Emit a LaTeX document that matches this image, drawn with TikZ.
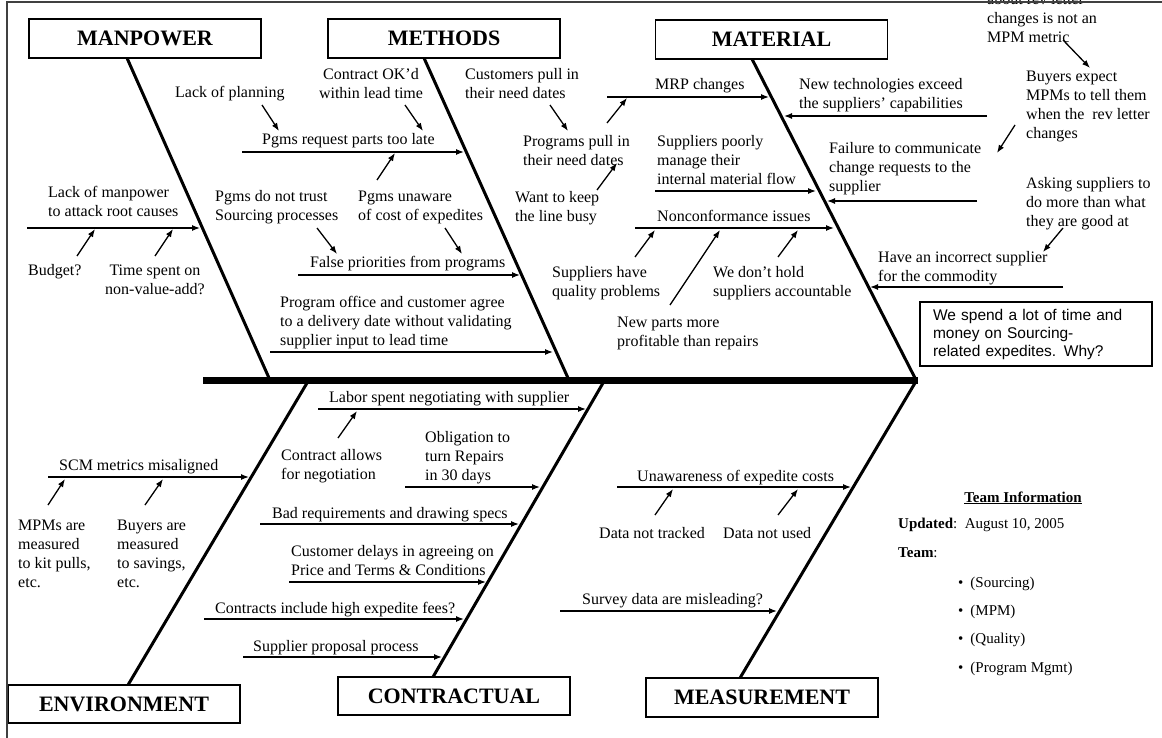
\documentclass[tikz,border=0pt]{standalone}
\usepackage{fontspec}
\setmainfont{Liberation Serif}
\newfontfamily\calloutfont{Liberation Sans}
\usetikzlibrary{arrows.meta}
\begin{document}
\begin{tikzpicture}[x=1pt,y=-1pt,
  txt/.style={font=\fontsize{16}{19}\selectfont, inner sep=0pt, anchor=base west, align=left},
  ctxt/.style={txt, anchor=base, align=center},
  team/.style={font=\fontsize{15}{18}\selectfont, inner sep=0pt, anchor=base west},
  titlebox/.style={draw, line width=1.5pt, font=\fontsize{22}{26}\bfseries\selectfont,
    minimum width=232pt, minimum height=39pt, inner sep=0pt},
  bone/.style={line width=3pt},
  spine/.style={line width=7pt},
  cause/.style={line width=1.3pt, -{Latex[length=8pt,width=6pt]}},
  frame/.style={line width=2.5pt, black!75}
  ]
\useasboundingbox (0,0) rectangle (1162,738);
\clip (0,0) rectangle (1162,738);

% ---------- category boxes ----------
\node[titlebox] (manpower) at (145,38.5) {MANPOWER};
\node[titlebox] (methods) at (444,38.5) {METHODS};
\node[titlebox] (material) at (771.5,39.5) {MATERIAL};
\node[titlebox, minimum height=38pt] (environment) at (124,704) {ENVIRONMENT};
\node[titlebox, minimum height=38pt] (contractual) at (454,696) {CONTRACTUAL};
\node[titlebox] (measurement) at (762,697.5) {MEASUREMENT};

% ---------- spine and bones ----------
\coordinate (spL) at (203,380);
\coordinate (spR) at (918,380);
\draw[spine] (spL) -- (spR);

\coordinate (mpT) at (127,58);   \coordinate (mpS) at (269,378);
\coordinate (meT) at (424,58);   \coordinate (meS) at (568,378);
\coordinate (maT) at (752,59);   \coordinate (maS) at (915,378);
\coordinate (enS) at (307,383);  \coordinate (enB) at (128,685);
\coordinate (coS) at (603,383);  \coordinate (coB) at (433,677);
\coordinate (msS) at (915,383);  \coordinate (msB) at (740,678);
\draw[bone] (mpT) -- (mpS);
\draw[bone] (meT) -- (meS);
\draw[bone] (maT) -- (maS);
\draw[bone] (enS) -- (enB);
\draw[bone] (coS) -- (coB);
\draw[bone] (msS) -- (msB);

% ---------- MANPOWER ----------
\node[txt] (lackman) at (48,217) {Lack of manpower\\to attack root causes};
\node[txt] (budget) at (28,275) {Budget?};
\node[ctxt] (timespent) at (155,294) {Time spent on\\non-value-add?};
\coordinate (lm1) at (27,228);  \coordinate (lm2) at (200,228);
\draw[cause] (lm1) -- (lm2);
\coordinate (bu1) at (77,256);  \coordinate (bu2) at (95,229);
\draw[cause] (bu1) -- (bu2);
\coordinate (ts1) at (155,256); \coordinate (ts2) at (173,229);
\draw[cause] (ts1) -- (ts2);

% ---------- METHODS (left part) ----------
\node[txt] (lackplan) at (175,98) {Lack of planning};
\node[ctxt] (contractok) at (371,99) {Contract OK'd\\within lead time};
\node[txt] (pgmsreq) at (262,145) {Pgms request parts too late};
\node[txt] (pgmstrust) at (215,221) {Pgms do not trust\\Sourcing processes};
\node[txt] (pgmsunaware) at (358,221) {Pgms unaware\\of cost of expedites};
\node[txt] (falsepri) at (310,268) {False priorities from programs};
\node[txt] (progoffice) at (280,345) {Program office and customer agree\\to a delivery date without validating\\supplier input to lead time};

\coordinate (pr1) at (242,152); \coordinate (pr2) at (464,152);
\draw[cause] (pr1) -- (pr2);
\coordinate (lp1) at (262,105); \coordinate (lp2) at (279,131);
\draw[cause] (lp1) -- (lp2);
\coordinate (ok1) at (405,105); \coordinate (ok2) at (423,131);
\draw[cause] (ok1) -- (ok2);
\coordinate (pu1) at (377,180); \coordinate (pu2) at (395,153);
\draw[cause] (pu1) -- (pu2);
\coordinate (fp1) at (298,275); \coordinate (fp2) at (520,275);
\draw[cause] (fp1) -- (fp2);
\coordinate (pt1) at (317,228); \coordinate (pt2) at (337,254);
\draw[cause] (pt1) -- (pt2);
\coordinate (pd1) at (445,228); \coordinate (pd2) at (462,254);
\draw[cause] (pd1) -- (pd2);
\coordinate (po1) at (270,352); \coordinate (po2) at (553,352);
\draw[cause] (po1) -- (po2);

% ---------- METHODS (right part) ----------
\node[txt] (custpull) at (465,99) {Customers pull in\\their need dates};
\node[txt] (progpull) at (523,166) {Programs pull in\\their need dates};
\node[txt] (mrp) at (655,90) {MRP changes};
\node[txt] (wantkeep) at (515,222) {Want to keep\\the line busy};
\node[txt] (supppoor) at (657,185) {Suppliers poorly\\manage their\\internal material flow};
\node[txt] (noncon) at (657,222) {Nonconformance issues};
\node[txt] (suppqual) at (552,296) {Suppliers have\\quality problems};
\node[txt] (newparts) at (617,346) {New parts more\\profitable than repairs};
\node[txt] (wedont) at (713,296) {We don't hold\\suppliers accountable};

\coordinate (cp1) at (550,105); \coordinate (cp2) at (568,131);
\draw[cause] (cp1) -- (cp2);
\coordinate (mr1) at (607,97);  \coordinate (mr2) at (769,97);
\draw[cause] (mr1) -- (mr2);
\coordinate (pp1) at (607,123); \coordinate (pp2) at (627,98);
\draw[cause] (pp1) -- (pp2);
\coordinate (wk1) at (597,190); \coordinate (wk2) at (617,163);
\draw[cause] (wk1) -- (wk2);
\coordinate (sp1) at (655,191); \coordinate (sp2) at (816,191);
\draw[cause] (sp1) -- (sp2);
\coordinate (nc1) at (635,228); \coordinate (nc2) at (834,228);
\draw[cause] (nc1) -- (nc2);
\coordinate (sq1) at (635,257); \coordinate (sq2) at (655,230);
\draw[cause] (sq1) -- (sq2);
\coordinate (np1) at (670,305); \coordinate (np2) at (720,230);
\draw[cause] (np1) -- (np2);
\coordinate (wd1) at (778,257); \coordinate (wd2) at (798,230);
\draw[cause] (wd1) -- (wd2);

% ---------- MATERIAL (right part) ----------
\node[txt] (newtech) at (799,109) {New technologies exceed\\the suppliers' capabilities};
\node[txt] (failure) at (829,192) {Failure to communicate\\change requests to the\\supplier};
\node[txt] (buyers) at (1026,139) {Buyers expect\\MPMs to tell them\\when the\ \ rev letter\\changes};
\node[txt] (toptext) at (987,43) {about rev letter\\changes is not an\\MPM metric};
\node[txt] (asking) at (1026,226) {Asking suppliers to\\do more than what\\they are good at};
\node[txt] (incorrect) at (878,281) {Have an incorrect supplier\\for the commodity};

\coordinate (nt1) at (987,116); \coordinate (nt2) at (784,116);
\draw[cause] (nt1) -- (nt2);
\coordinate (fl1) at (977,201); \coordinate (fl2) at (827,201);
\draw[cause] (fl1) -- (fl2);
\coordinate (by1) at (1015,125); \coordinate (by2) at (997,153);
\draw[cause] (by1) -- (by2);
\coordinate (tt1) at (1063,40); \coordinate (tt2) at (1090,68);
\draw[cause] (tt1) -- (tt2);
\coordinate (as1) at (1063,228); \coordinate (as2) at (1043,252);
\draw[cause] (as1) -- (as2);
\coordinate (ic1) at (1063,287); \coordinate (ic2) at (870,287);
\draw[cause] (ic1) -- (ic2);

% ---------- problem statement ----------
\node[draw, line width=1.3pt, minimum width=232pt, minimum height=64pt, inner sep=0pt,
      text width=206pt, align=left, font=\calloutfont\fontsize{15.5}{18}\selectfont]
      (problem) at (1036,334) {We spend a lot of time and\\money on Sourcing-\\related expedites. Why?};

% ---------- ENVIRONMENT ----------
\node[txt] (scm) at (59,470) {SCM metrics misaligned};
\node[txt] (mpms) at (18,587) {MPMs are\\measured\\to kit pulls,\\etc.};
\node[txt] (buyersmeas) at (117,587) {Buyers are\\measured\\to savings,\\etc.};
\coordinate (sc1) at (48,477);  \coordinate (sc2) at (249,477);
\draw[cause] (sc1) -- (sc2);
\coordinate (mm1) at (48,505);  \coordinate (mm2) at (65,479);
\draw[cause] (mm1) -- (mm2);
\coordinate (bm1) at (145,505); \coordinate (bm2) at (163,479);
\draw[cause] (bm1) -- (bm2);

% ---------- CONTRACTUAL ----------
\node[txt] (labor) at (329,402) {Labor spent negotiating with supplier};
\node[txt] (contallow) at (281,479) {Contract allows\\for negotiation};
\node[txt] (obligation) at (425,480) {Obligation to\\turn Repairs\\in 30 days};
\node[txt] (badreq) at (272,518) {Bad requirements and drawing specs};
\node[txt] (custdelay) at (291,575) {Customer delays in agreeing on\\Price and Terms \& Conditions};
\node[txt] (contrinc) at (215,613) {Contracts include high expedite fees?};
\node[txt] (supprop) at (253,651) {Supplier proposal process};

\coordinate (lb1) at (318,409); \coordinate (lb2) at (586,409);
\draw[cause] (lb1) -- (lb2);
\coordinate (ca1) at (338,438); \coordinate (ca2) at (357,411);
\draw[cause] (ca1) -- (ca2);
\coordinate (ob1) at (405,487); \coordinate (ob2) at (540,487);
\draw[cause] (ob1) -- (ob2);
\coordinate (br1) at (260,524); \coordinate (br2) at (519,524);
\draw[cause] (br1) -- (br2);
\coordinate (cd1) at (289,582); \coordinate (cd2) at (486,582);
\draw[cause] (cd1) -- (cd2);
\coordinate (ci1) at (204,619); \coordinate (ci2) at (464,619);
\draw[cause] (ci1) -- (ci2);
\coordinate (ps1) at (243,657); \coordinate (ps2) at (442,657);
\draw[cause] (ps1) -- (ps2);

% ---------- MEASUREMENT ----------
\node[txt] (unaware) at (637,481) {Unawareness of expedite costs};
\node[txt] (datatr) at (599,538) {Data not tracked};
\node[txt] (dataused) at (723,538) {Data not used};
\node[txt] (survey) at (582,604) {Survey data are misleading?};
\coordinate (ua1) at (617,487); \coordinate (ua2) at (851,487);
\draw[cause] (ua1) -- (ua2);
\coordinate (dt1) at (655,515); \coordinate (dt2) at (673,489);
\draw[cause] (dt1) -- (dt2);
\coordinate (du1) at (778,515); \coordinate (du2) at (798,489);
\draw[cause] (du1) -- (du2);
\coordinate (sv1) at (560,611); \coordinate (sv2) at (777,611);
\draw[cause] (sv1) -- (sv2);

% ---------- team information ----------
\node[team, anchor=base] (teaminfo) at (1023,502) {\textbf{\underline{Team Information}}};
\node[team] (updated) at (898,528) {\textbf{Updated}:\ \ August 10, 2005};
\node[team] (teamlbl) at (898,557) {\textbf{Team}:};
\node[team] (m1) at (958,587) {•\hspace{7pt}(Sourcing)};
\node[team] (m2) at (958,615) {•\hspace{7pt}(MPM)};
\node[team] (m3) at (958,643) {•\hspace{7pt}(Quality)};
\node[team] (m4) at (958,672) {•\hspace{7pt}(Program Mgmt)};

% ---------- frame (drawn last, over the cut-off top text) ----------
\coordinate (fA) at (7,738);
\coordinate (fB) at (7,2);
\coordinate (fC) at (1162,2);
\draw[frame] (fA) -- (fB) -- (fC);
\end{tikzpicture}
\end{document}
